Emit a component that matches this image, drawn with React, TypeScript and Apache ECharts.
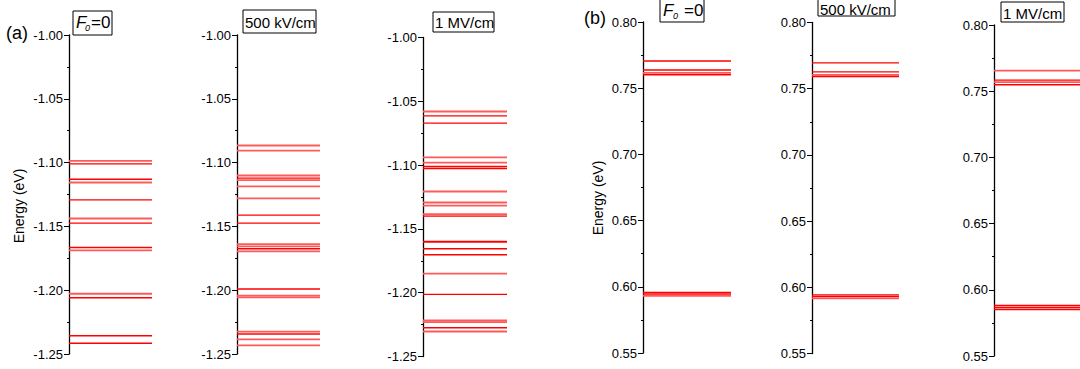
import React, { useEffect, useRef } from "react";
import * as echarts from "echarts";

// Energy levels (eV); second value 1 = lighter shade
const levelsA0: [number, number][] = [
  [-1.0986, 1], [-1.101, 0], [-1.113, 0], [-1.1156, 1], [-1.1292, 0], [-1.1438, 1],
  [-1.1474, 0], [-1.1665, 0], [-1.1688, 1], [-1.2028, 1], [-1.2059, 0], [-1.2357, 0], [-1.2416, 0],
];
const levelsA500: [number, number][] = [
  [-1.0866, 1], [-1.0906, 1], [-1.1101, 1], [-1.1122, 0], [-1.1138, 1], [-1.1187, 1],
  [-1.1281, 1], [-1.1412, 0], [-1.1474, 0], [-1.1639, 1], [-1.1657, 1], [-1.1675, 0],
  [-1.1696, 1], [-1.1991, 0], [-1.2043, 1], [-1.2056, 1], [-1.2325, 1], [-1.2343, 0],
  [-1.2385, 1], [-1.2432, 1],
];
const levelsA1M: [number, number][] = [
  [-1.058, 1], [-1.0614, 0], [-1.0671, 0], [-1.094, 1], [-1.098, 1], [-1.1011, 0],
  [-1.1027, 0], [-1.1207, 1], [-1.1293, 1], [-1.1317, 1], [-1.1385, 1], [-1.14, 0],
  [-1.1598, 0], [-1.1604, 0], [-1.1655, 0], [-1.1702, 0], [-1.1851, 1], [-1.2013, 0],
  [-1.2218, 1], [-1.2231, 1], [-1.2275, 0], [-1.2304, 1],
];
const levelsB0: [number, number][] = [
  [0.7705, 0], [0.7637, 0], [0.7615, 1], [0.7602, 0], [0.5958, 0], [0.5946, 0], [0.5931, 1],
];
const levelsB500: [number, number][] = [
  [0.7695, 0], [0.7627, 0], [0.7604, 1], [0.7592, 0], [0.5943, 0], [0.5931, 0], [0.5916, 1],
];
const levelsB1M: [number, number][] = [
  [0.7655, 1], [0.7584, 0], [0.7569, 1], [0.7549, 0], [0.5881, 0], [0.5866, 0], [0.5851, 0],
];

const rangeA = { min: -1.25, max: -1.0 };
const rangeB = { min: 0.55, max: 0.8 };
const panelTitles = ["F0=0", "500 kV/cm", "1 MV/cm", "F0 =0", "500 kV/cm", "1 MV/cm"];

const panels = [
  { data: levelsA0, range: rangeA, grid: { left: 69, top: 35, width: 83, height: 319 } },
  { data: levelsA500, range: rangeA, grid: { left: 237, top: 35, width: 83, height: 319 } },
  { data: levelsA1M, range: rangeA, grid: { left: 423, top: 37.5, width: 84, height: 319 } },
  { data: levelsB0, range: rangeB, grid: { left: 643, top: 22, width: 88, height: 331 } },
  { data: levelsB500, range: rangeB, grid: { left: 812, top: 22.5, width: 87, height: 331 } },
  { data: levelsB1M, range: rangeB, grid: { left: 994, top: 25, width: 100, height: 331 } },
];

const FONT = "'Liberation Sans', Arial, sans-serif";

function box(x: number, y: number, w: number, h: number, children: any[]) {
  return {
    type: "group",
    x,
    y,
    children: [
      { type: "rect", shape: { x: 0, y: 0, width: w, height: h }, style: { fill: "#fff", stroke: "#000", lineWidth: 1 } },
      ...children,
    ],
  };
}

function txt(x: number, y: number, text: string, size: number, extra: any = {}) {
  return {
    type: "text",
    x,
    y,
    style: { text, fontSize: size, fontFamily: FONT, fill: "#000", verticalAlign: "middle", ...extra },
  };
}

export default function App() {
  const ref = useRef<HTMLDivElement>(null);
  useEffect(() => {
    if (!ref.current) return;
    const chart = echarts.init(ref.current, undefined, { renderer: "svg" });
    const option: any = {
      animation: false,
      backgroundColor: "#fff",
      grid: panels.map((p) => ({ ...p.grid, containLabel: false })),
      xAxis: panels.map((_, i) => ({ type: "value", gridIndex: i, min: 0, max: 1, show: false })),
      yAxis: panels.map((p, i) => ({
        type: "value",
        gridIndex: i,
        min: p.range.min,
        max: p.range.max,
        interval: 0.05,
        axisLine: { show: true, lineStyle: { color: "#000", width: 1.3 } },
        axisTick: { show: true, length: 5, lineStyle: { color: "#000", width: 1 } },
        minorTick: { show: true, splitNumber: 2, length: 2, lineStyle: { color: "#000", width: 1 } },
        splitLine: { show: false },
        axisLabel: {
          margin: 6,
          fontSize: 13,
          fontFamily: FONT,
          color: "#000",
          formatter: (v: number) => v.toFixed(2),
        },
      })),
      series: panels.map((p, i) => ({
        type: "custom",
        xAxisIndex: i,
        yAxisIndex: i,
        dimensions: ["energy", "light"],
        encode: { y: 0 },
        data: p.data,
        clip: true,
        renderItem: (params: any, api: any) => {
          const y = api.value(0);
          const light = api.value(1);
          const a = api.coord([0, y]);
          const b = api.coord([1, y]);
          return {
            type: "line",
            shape: { x1: a[0], y1: a[1], x2: b[0], y2: b[1] },
            style: { stroke: light ? "#ff5a5a" : "#ff0000", lineWidth: light ? 1.8 : 1.4 },
          };
        },
      })),
      graphic: [
        txt(6, 33, "(a)", 18),
        txt(584, 18, "(b)", 18),
        { ...txt(19, 206, "Energy (eV)", 14, { align: "center" }), rotation: Math.PI / 2, originX: 0, originY: 0 },
        { ...txt(598, 198, "Energy (eV)", 14, { align: "center" }), rotation: Math.PI / 2, originX: 0, originY: 0 },
        box(73, 11, 39, 24, [
          txt(3, 11, "F", 17, { fontStyle: "italic" }),
          txt(12, 17, "0", 9, { fontStyle: "italic" }),
          txt(18, 11, "=0", 17),
        ]),
        box(243, 10, 73, 23, [txt(2, 12, panelTitles[1], 15)]),
        box(433, 12, 61, 20, [txt(2, 10.5, panelTitles[2], 15)]),
        box(660, -2, 44, 24, [
          txt(3, 12, "F", 17, { fontStyle: "italic" }),
          txt(13, 18, "0", 9, { fontStyle: "italic" }),
          txt(24, 12, "=0", 17),
        ]),
        box(818, -6, 77, 22, [txt(2, 15, panelTitles[4], 15)]),
        box(1001, 2, 63, 20, [txt(2, 11, panelTitles[5], 15)]),
      ],
    };
    chart.setOption(option);
    return () => chart.dispose();
  }, []);
  return <div ref={ref} style={{ width: 1080, height: 369, position: "absolute", left: 0, top: 0 }} />;
}
